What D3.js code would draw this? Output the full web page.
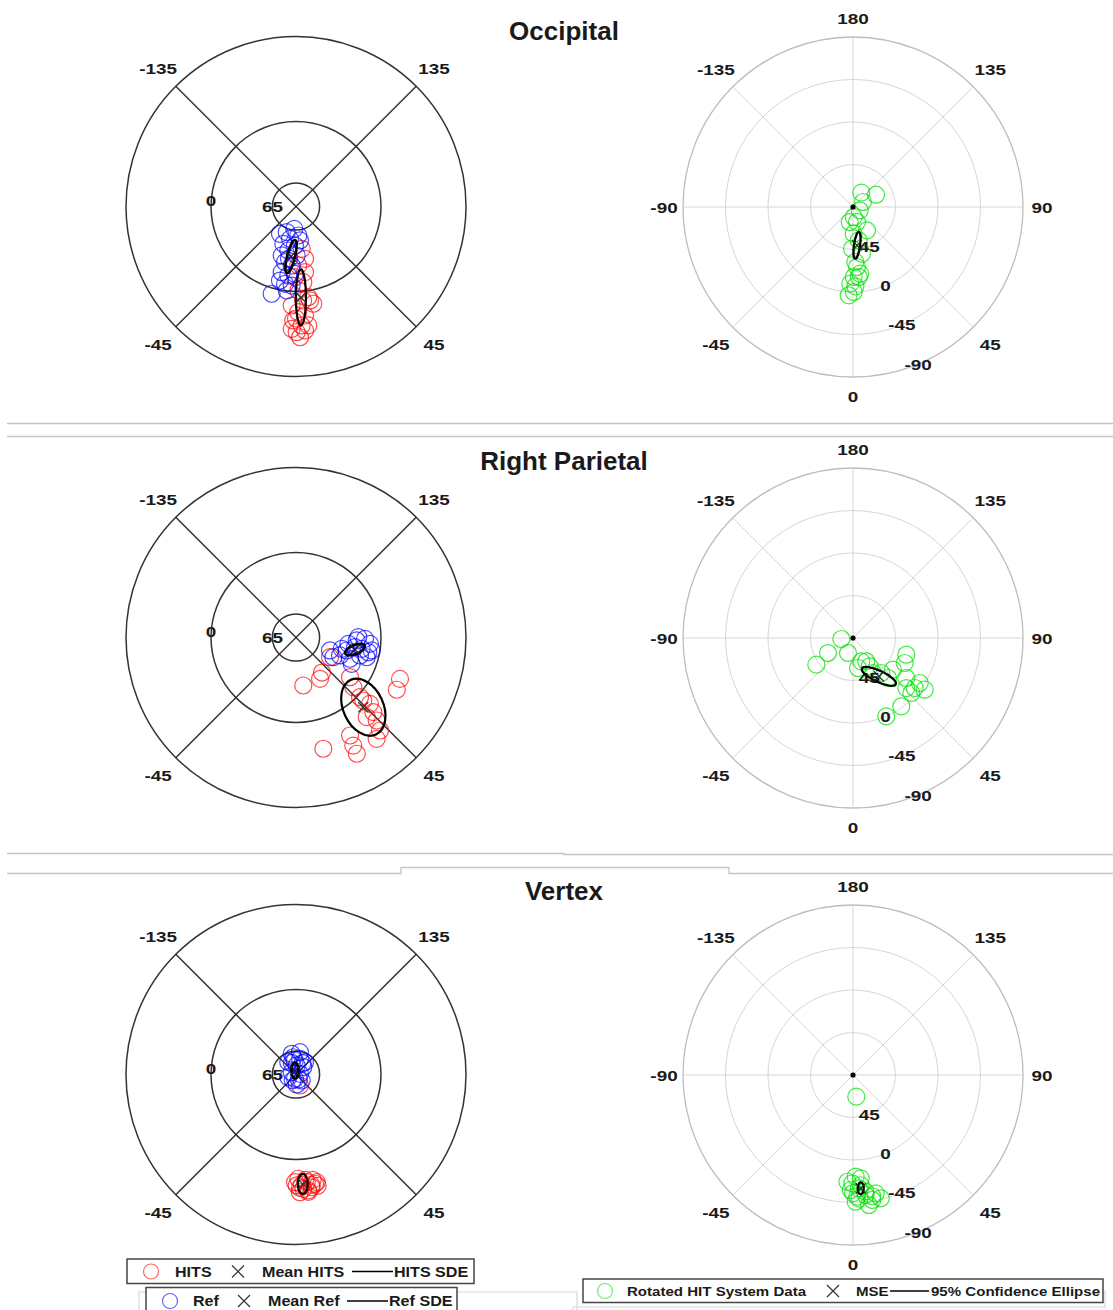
<!DOCTYPE html>
<html>
<head>
<meta charset="utf-8">
<script src="https://cdn.jsdelivr.net/npm/d3@7"></script>
<style>
  body { margin: 0; background: #fff; }
  svg { display: block; }
  text { font-family: "Liberation Sans", Arial, sans-serif; font-weight: bold; fill: #1a1a1a; }
</style>
</head>
<body>
<div id="chart"></div>
<script>
// ---------- tick values ----------
const regionNames = ["Occipital", "Right Parietal", "Vertex"];
const leftAngleTicks = [-135, 135, -45, 45];
const leftSpokeAngles = [45, 135];
const leftRingValues = [65, 0, -90];
const leftRadialLabels = [0, 65];
const rightAngleTicks = [180, -135, 135, -90, 90, -45, 45, 0];
const rightSpokeAngles = [0, 45, 90, 135];
const rightRingValues = [45, 0, -45, -90];
const rightRadialLabels = [45, 0, -45, -90];
const rightRadialLabelAngle = 22.5;

// ---------- data: [azimuth, elevation] in degrees ----------
// Occipital
const occipitalHits = [[7.7,44.8],[9.8,33.8],[2.2,27.5],[7.8,19.8],[-0.8,15.1],[5.5,9.5],[1.6,1.1],[7.7,-6.9],
  [10.1,-14.6],[-2.5,-14.9],[1.2,-21.9],[4.7,-25.8],[-1.4,-30.7],[2.7,-36.1],[0.3,-43.1],[4.2,-41.6],
  [1.8,-48.5],[5.9,-36.6],[-2.0,-39.6],[8.5,-10.6],[4.3,-9.8],[0,-28.6]];
const occipitalRef = [[-4.4,66.3],[-19.9,61.1],[-30.4,56.5],[4.5,59.2],[-10.5,55.2],[-18.8,48.3],[-1.5,48.7],
  [-9.9,42.7],[-16.3,36],[0.8,38.1],[-11.2,29.9],[-4.2,27.3],[-12.3,18.8],[-6.4,16.5],[-0.9,18.7],
  [-8.1,7.3],[-3.1,6.2],[-15.6,-5.9],[-12.2,9.8],[-6.3,0.5],[6.7,53.8],[-7.7,34.4]];
const occipitalHitsMean = [3.1, -6.5];
const occipitalRefMean = [-5.7, 36.8];
// SDE ellipses: [semi-major, semi-minor, tilt of major axis]
const occipitalHitsSDE = [29.7, 5.3, 0];
const occipitalRefSDE = [18, 4.2, 14];
const occipitalRotated = [[149.9,72.4],[118.1,62.4],[116.6,78.2],[63.8,82.1],[4,79.4],[14.9,73.6],[31,61.2],
  [1.5,61.7],[9.7,54.2],[-1.4,45.8],[10.9,39.6],[2.4,31.7],[3.8,26.3],[0.6,15.9],[4.7,15.6],[-2.0,8.8],
  [1.7,6.0],[-2.8,-3.6],[0.5,0],[6.2,19],[-12.4,73.7]];
const occipitalMSE = [6, 49.2];
const occipitalCE = [14.3, 3.2, 8];

// Right Parietal
const parietalHits = [[59.9,48.4],[30.2,39.4],[8.6,38.6],[36.6,43.8],[53.7,19],[49.1,9.7],[68.3,-28.5],
  [62.6,-30.2],[47,-2.7],[48.1,-15.2],[46,-23.8],[41.6,-22.8],[44.2,-32.6],[42.1,-42.7],[38.5,-47.1],
  [28.9,-28.5],[27.9,-39.5],[27.6,-48.9],[13.8,-31.3],[46.9,-7.6]];
const parietalRef = [[62.2,45.3],[76.1,40.1],[83.1,34.2],[87.2,25.7],[88.9,16.9],[85.1,11.4],[78.5,11.9],
  [74.3,19.6],[68.5,28.6],[75.6,34.6],[80.7,26.7],[80.2,19.4],[74.4,12.3],[64.7,24.8],[67.8,39.7],
  [80.3,8.7],[90.3,24],[69.1,51.5]];
const parietalHitsMean = [44, -12.6];
const parietalRefMean = [78.5, 26.3];
const parietalHitsSDE = [31.8, 21.2, -25];
const parietalRefSDE = [11.1, 4.8, 68];
const parietalRotated = [[-85.1,77.6],[-59,59.1],[-54,42],[-18.4,73.3],[19.6,63.8],[9.5,57.8],[30.5,55.2],
  [29.7,47.3],[39,42.3],[41.2,33.7],[72.6,30.8],[64.2,29.2],[53.1,19.5],[46.8,12.6],[56,4.8],[54.2,-3.6],
  [46.7,5.1],[35.3,1.4],[23,-0.1],[51.6,36],[29.7,61.6],[51,5.9]];
const parietalMSE = [34, 41];
const parietalCE = [19.8, 6, -65];

// Vertex
const vertexHits = [[1.3,-20.4],[5.7,-24.6],[9.9,-27.4],[0.4,-27.5],[3.7,-31.3],[7.9,-30.5],[1.9,-34.7],
  [6.1,-33.5],[-0.5,-24],[10.9,-26.1],[3,-27],[8,-28],[5,-22],[11,-30],[2,-30],[9,-23],[6,-35],[20,77.6]];
const vertexRef = [[-171.1,71.5],[165.7,72.8],[-148,74.6],[175.6,80.4],[135,79.1],[-118,84.8],[100,85.7],
  [-13,85.3],[-70.7,81.4],[43.5,81.2],[4,79.4],[-168.3,67.6],[143.8,73.8],[150,76],[-160,77],[30,84],
  [-30,83],[170,66],[-175,75]];
const vertexHitsMean = [3.5, -26];
const vertexRefMean = [-166, 85.6];
const vertexHitsSDE = [10.6, 5.3, 0];
const vertexRefSDE = [8.5, 3.7, 0];
const vertexRotated = [[8.7,66.8],[1.5,-17.7],[4.3,-19.7],[-0.4,-24.7],[-1.1,-31.8],[3,-30.2],[2,-38.9],
  [6,-37.8],[8.8,-43.9],[12.7,-43.8],[7,-48.7],[1.2,-44.2],[10.9,-37.6],[-3,-23.2],[4,-27],[6,-34],
  [0,-35],[9,-40],[3,-41]];
const vertexMSE = [3.9, -30.3];
const vertexCE = [6.4, 3.2, 0];

const panels = [
  { hits: occipitalHits, ref: occipitalRef, hitsMean: occipitalHitsMean, refMean: occipitalRefMean,
    hitsSDE: occipitalHitsSDE, refSDE: occipitalRefSDE, rotated: occipitalRotated, mse: occipitalMSE, ce: occipitalCE },
  { hits: parietalHits, ref: parietalRef, hitsMean: parietalHitsMean, refMean: parietalRefMean,
    hitsSDE: parietalHitsSDE, refSDE: parietalRefSDE, rotated: parietalRotated, mse: parietalMSE, ce: parietalCE },
  { hits: vertexHits, ref: vertexRef, hitsMean: vertexHitsMean, refMean: vertexRefMean,
    hitsSDE: vertexHitsSDE, refSDE: vertexRefSDE, rotated: vertexRotated, mse: vertexMSE, ce: vertexCE }
];

// ---------- layout ----------
const W = 1113, H = 1310;
const R = 170;
const leftCx = 296, rightCx = 853;
const rowCy = [206.5, 637.5, 1074.5];
const titleY = [40, 470, 900];

const RED = "rgb(255,0,0)", BLUE = "rgb(0,0,255)", GREEN = "rgb(0,225,0)";
const markerR = 8.5;

// elevation 90 at the centre, -90 on the rim; azimuth 0 at the bottom, 90 to the right
const rScale = d3.scaleLinear().domain([90, -90]).range([0, R]);
const spanScale = d3.scaleLinear().domain([0, 180]).range([0, R]);
const angScale = d3.scaleLinear().domain([0, 360]).range([0, 2 * Math.PI]);
const project = (az, el) => d3.pointRadial(Math.PI - angScale(az), rScale(el));
const polar = (az, rad) => d3.pointRadial(Math.PI - angScale(az), rad);

const svg = d3.select("#chart").append("svg").attr("width", W).attr("height", H);
svg.append("rect").attr("width", W).attr("height", H).attr("fill", "#fff");

function tickLabel(g, x, y, t, size = 15.5, sx = 1.22) {
  g.append("text")
    .attr("transform", `translate(${x},${y}) scale(${sx},1)`)
    .attr("text-anchor", "middle").attr("dy", "0.36em")
    .style("font-size", size + "px").text(t);
}

function crossMark(g, x, y, s, color, w) {
  g.append("path")
    .attr("d", `M${x - s},${y - s}L${x + s},${y + s}M${x - s},${y + s}L${x + s},${y - s}`)
    .attr("stroke", color).attr("stroke-width", w).attr("fill", "none");
}

function markers(g, pts, color, opacity) {
  g.append("g").selectAll("circle").data(pts).join("circle")
    .attr("cx", d => project(d[0], d[1])[0])
    .attr("cy", d => project(d[0], d[1])[1])
    .attr("r", markerR)
    .attr("fill", "none").attr("stroke", color).attr("stroke-opacity", opacity).attr("stroke-width", 1.2);
}

function ellipse(g, center, e, w) {
  const [x, y] = project(center[0], center[1]);
  g.append("ellipse")
    .attr("transform", `translate(${x},${y}) rotate(${e[2]})`)
    .attr("rx", spanScale(e[1])).attr("ry", spanScale(e[0]))
    .attr("fill", "none").attr("stroke", "#000").attr("stroke-width", w);
}

function drawLeft(g, p) {
  const grid = g.append("g").attr("fill", "none").attr("stroke", "#333").attr("stroke-width", 1.5);
  leftRingValues.forEach(v => grid.append("circle").attr("r", rScale(v)));
  leftSpokeAngles.forEach(a => {
    const [x1, y1] = project(a, -90), [x2, y2] = project(a + 180, -90);
    grid.append("line").attr("x1", x1).attr("y1", y1).attr("x2", x2).attr("y2", y2);
  });
  leftAngleTicks.forEach(a => {
    const [x, y] = polar(a, R + 25);
    tickLabel(g, x, y, a);
  });
  leftRadialLabels.forEach(v => {
    const [x, y] = project(-90, v);
    tickLabel(g, x, y + (v === 0 ? -6 : 0), v);
  });
  markers(g, p.hits, RED, 0.7);
  markers(g, p.ref, BLUE, 0.7);
  ellipse(g, p.hitsMean, p.hitsSDE, 2.2);
  ellipse(g, p.refMean, p.refSDE, 2.6);
  const hm = project(p.hitsMean[0], p.hitsMean[1]);
  const rm = project(p.refMean[0], p.refMean[1]);
  crossMark(g, hm[0], hm[1], 5, "#333", 1.2);
  crossMark(g, rm[0], rm[1], 5, "#222", 1.2);
}

function drawRight(g, p) {
  const grid = g.append("g").attr("fill", "none").attr("stroke", "#d6d6d6").attr("stroke-width", 1);
  rightRingValues.forEach(v => grid.append("circle").attr("r", rScale(v))
    .attr("stroke", v === -90 ? "#bdbdbd" : "#d6d6d6").attr("stroke-width", v === -90 ? 1.3 : 1));
  rightSpokeAngles.forEach(a => {
    const [x1, y1] = project(a, -90), [x2, y2] = project(a + 180, -90);
    grid.append("line").attr("x1", x1).attr("y1", y1).attr("x2", x2).attr("y2", y2);
  });
  rightAngleTicks.forEach(a => {
    const diag = Math.abs(a) % 90 !== 0;
    const [x, y] = polar(a, diag ? R + 24 : R + 19);
    tickLabel(g, x, y, a);
  });
  markers(g, p.rotated, GREEN, 0.75);
  rightRadialLabels.forEach(v => {
    const [x, y] = project(rightRadialLabelAngle, v);
    tickLabel(g, x, y, v);
  });
  g.append("circle").attr("r", 2.6).attr("fill", "#000");
  ellipse(g, p.mse, p.ce, 2.2);
  const m = project(p.mse[0], p.mse[1]);
  crossMark(g, m[0], m[1], 5, "#222", 1.2);
}

panels.forEach((p, i) => {
  svg.append("text").attr("x", 564).attr("y", titleY[i]).attr("text-anchor", "middle")
    .style("font-size", "26px").text(regionNames[i]);
  drawLeft(svg.append("g").attr("transform", `translate(${leftCx},${rowCy[i]})`), p);
  drawRight(svg.append("g").attr("transform", `translate(${rightCx},${rowCy[i] + 0.5})`), p);
});

// ---------- panel separators ----------
const sep = svg.append("g").attr("fill", "none").attr("stroke", "#c4c4c4").attr("stroke-width", 1.3);
sep.append("line").attr("x1", 7).attr("x2", W).attr("y1", 423.5).attr("y2", 423.5);
sep.append("line").attr("x1", 7).attr("x2", W).attr("y1", 436.5).attr("y2", 436.5);
sep.append("path").attr("d", "M7,853.5H564V854.5H1113");
sep.append("path").attr("d", "M7,873.5H401V867.5H729V873.5H1113");
// faint frames behind the legends
const frame = svg.append("g").attr("fill", "none").attr("stroke", "#d8d8d8").attr("stroke-width", 1.2);
frame.append("path").attr("d", "M139,1310V1292H146M457,1292H577V1310");
frame.append("path").attr("d", "M573,1310V1307H1105V1290");

// ---------- legends ----------
function legend(box, items, cy, size) {
  const g = svg.append("g");
  g.append("rect").attr("x", box[0]).attr("y", box[1]).attr("width", box[2] - box[0]).attr("height", box[3] - box[1])
    .attr("fill", "#fff").attr("stroke", "#444").attr("stroke-width", 1.5);
  items.forEach(it => {
    if (it.type === "circle") {
      g.append("circle").attr("cx", it.x).attr("cy", cy).attr("r", 7.5).attr("fill", "none")
        .attr("stroke", it.color).attr("stroke-opacity", 0.6).attr("stroke-width", 1.2);
    } else if (it.type === "cross") {
      crossMark(g, it.x, cy, 6, "#333", 1.2);
    } else if (it.type === "line") {
      g.append("line").attr("x1", it.x).attr("x2", it.x2).attr("y1", cy).attr("y2", cy)
        .attr("stroke", "#000").attr("stroke-width", 1.6);
    } else {
      g.append("text").attr("transform", `translate(${it.x},${cy}) scale(1.15,1)`)
        .attr("dy", "0.36em").style("font-size", size + "px").text(it.text);
    }
  });
}

legend([127, 1259, 474, 1283.5], [
  { type: "circle", x: 151, color: RED }, { type: "text", x: 175, text: "HITS" },
  { type: "cross", x: 238 }, { type: "text", x: 262, text: "Mean HITS" },
  { type: "line", x: 352, x2: 393 }, { type: "text", x: 394, text: "HITS SDE" }
], 1271.5, 14);
legend([146, 1287.5, 457, 1313], [
  { type: "circle", x: 170, color: BLUE }, { type: "text", x: 193, text: "Ref" },
  { type: "cross", x: 244 }, { type: "text", x: 268, text: "Mean Ref" },
  { type: "line", x: 347, x2: 388 }, { type: "text", x: 389, text: "Ref SDE" }
], 1301, 14);
legend([583, 1279, 1103, 1302.5], [
  { type: "circle", x: 605, color: GREEN }, { type: "text", x: 627, text: "Rotated HIT System Data" },
  { type: "cross", x: 833 }, { type: "text", x: 856, text: "MSE" },
  { type: "line", x: 890, x2: 929 }, { type: "text", x: 931, text: "95% Confidence Ellipse" }
], 1291, 13.1);
</script>
</body>
</html>
